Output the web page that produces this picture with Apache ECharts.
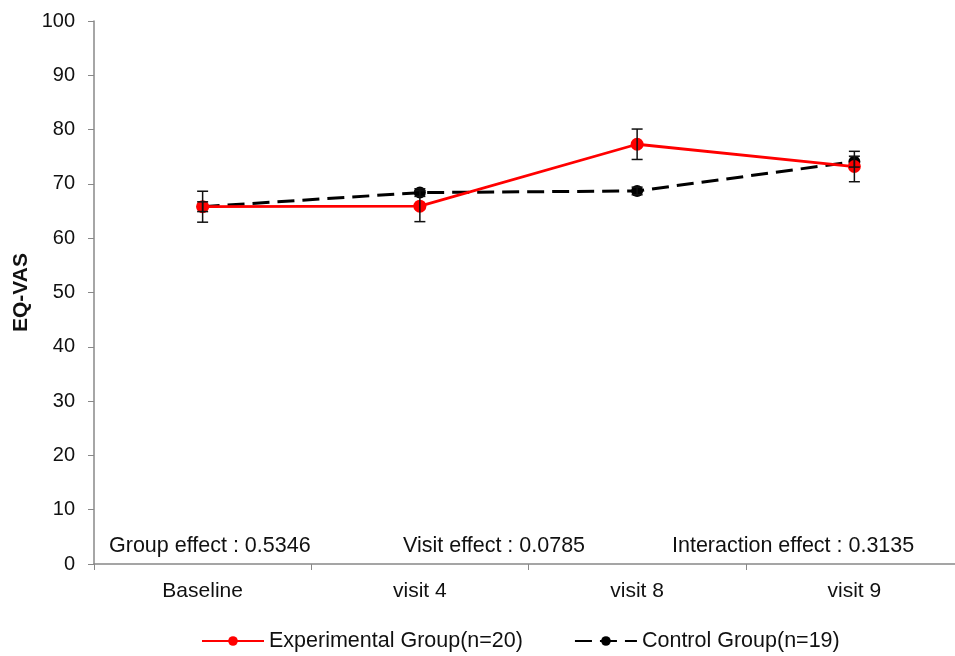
<!DOCTYPE html>
<html><head><meta charset="utf-8">
<script src="https://cdn.jsdelivr.net/npm/echarts@6/dist/echarts.min.js"></script>
<style>html,body{margin:0;padding:0;background:#fff;overflow:hidden}#c{width:966px;height:656px}</style>
</head><body><div id="c"></div>
<script>
const categories = ['Baseline', 'visit 4', 'visit 8', 'visit 9'];
const expName = 'Experimental Group(n=20)';
const ctlName = 'Control Group(n=19)';
const expValues = [65.8, 65.9, 77.3, 73.2];
const expErr = [2.85, 2.85, 2.8, 2.8];
const ctlValues = [65.8, 68.4, 68.7, 74.1];
const ctlErr = [0.9, 0.7, 0.7, 1.0];
const yTicks = [0, 10, 20, 30, 40, 50, 60, 70, 80, 90, 100];
const annotations = ['Group effect : 0.5346', 'Visit effect : 0.0785', 'Interaction effect : 0.3135'];

const FONT = 'Liberation Sans, Arial, sans-serif';
function errData(vals, errs) {
  return vals.map((v, i) => [i, v - errs[i], v + errs[i]]);
}
function errRender(params, api) {
  const x = api.value(0);
  const lo = api.coord([x, api.value(1)]);
  const hi = api.coord([x, api.value(2)]);
  const w = 5.5;
  const style = {stroke: '#111', lineWidth: 1.5, fill: null};
  return {type: 'group', children: [
    {type: 'line', shape: {x1: hi[0], y1: hi[1], x2: lo[0], y2: lo[1]}, style},
    {type: 'line', shape: {x1: hi[0]-w, y1: hi[1], x2: hi[0]+w, y2: hi[1]}, style},
    {type: 'line', shape: {x1: lo[0]-w, y1: lo[1], x2: lo[0]+w, y2: lo[1]}, style}
  ]};
}
const chart = echarts.init(document.getElementById('c'));
chart.setOption({
  animation: false,
  backgroundColor: '#fff',
  textStyle: {fontFamily: FONT},
  grid: {left: 94, top: 21, width: 869, bottom: 92, containLabel: false},
  xAxis: {
    type: 'category', data: categories, boundaryGap: true,
    axisLine: {lineStyle: {color: '#888', width: 1.5}},
    axisTick: {show: true, length: 6, lineStyle: {color: '#888'}},
    axisLabel: {color: '#111', fontSize: 21, margin: 17, fontFamily: FONT}
  },
  yAxis: {
    type: 'value', min: yTicks[0], max: yTicks[yTicks.length-1], interval: 10,
    name: 'EQ-VAS', nameLocation: 'middle', nameGap: 62, nameMoveOverlap: false,
    nameTextStyle: {fontWeight: 'bold', fontSize: 21, color: '#111', fontFamily: FONT},
    axisLine: {show: true, lineStyle: {color: '#888', width: 1.5}},
    axisTick: {show: true, length: 6, lineStyle: {color: '#888'}},
    splitLine: {show: false},
    axisLabel: {color: '#111', fontSize: 20, margin: 19, fontFamily: FONT}
  },
  legend: {
    top: 630, left: 201, padding: 0, itemGap: 51, itemWidth: 62, itemHeight: 12,
    textStyle: {fontSize: 21.5, color: '#111', fontFamily: FONT},
    data: [expName, ctlName]
  },
  graphic: [
    {type: 'text', left: 109, top: 535, style: {text: annotations[0], fill: '#111', font: '21.5px ' + FONT}},
    {type: 'text', left: 403, top: 535, style: {text: annotations[1], fill: '#111', font: '21.5px ' + FONT}},
    {type: 'text', left: 672, top: 535, style: {text: annotations[2], fill: '#111', font: '21.5px ' + FONT}}
  ],
  series: [
    {name: ctlName, type: 'line', data: ctlValues, symbol: 'circle', symbolSize: 12,
     itemStyle: {color: '#000'}, lineStyle: {color: '#000', width: 3, type: [17, 8]}, z: 2},
    {name: 'ctlErr', type: 'custom', data: errData(ctlValues, ctlErr), renderItem: errRender, z: 4, silent: true},
    {name: expName, type: 'line', data: expValues, symbol: 'circle', symbolSize: 13,
     itemStyle: {color: '#ff0000'}, lineStyle: {color: '#ff0000', width: 2.8}, z: 3},
    {name: 'expErr', type: 'custom', data: errData(expValues, expErr), renderItem: errRender, z: 4, silent: true}
  ]
});
</script></body></html>
